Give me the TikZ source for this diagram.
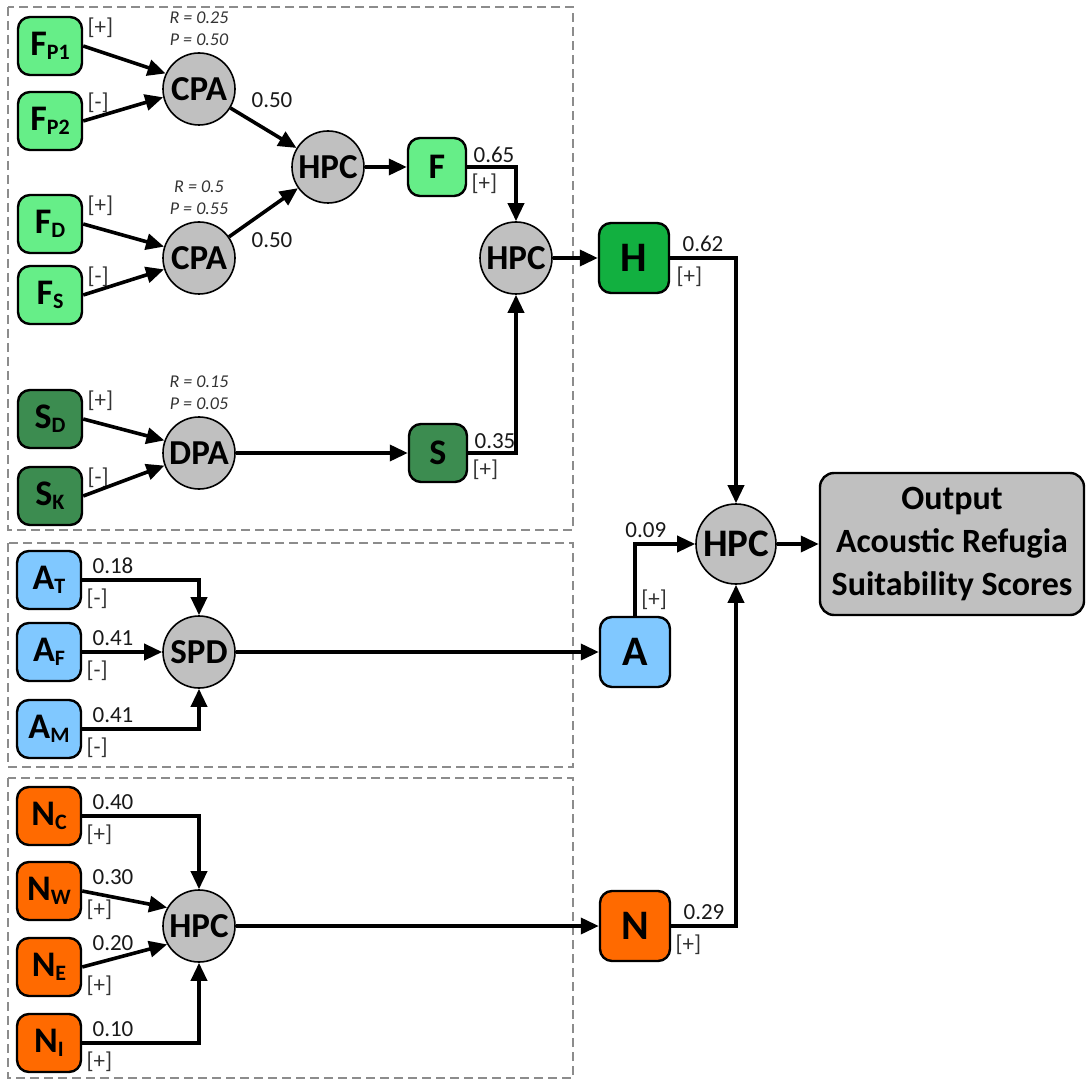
\documentclass[tikz,border=0pt]{standalone}
\usepackage{fontspec}
\setmainfont{Carlito}
\usetikzlibrary{arrows.meta, positioning, calc}
\definecolor{fgreen}{HTML}{66EE88}
\definecolor{hgreen}{HTML}{12B040}
\definecolor{sgreen}{HTML}{3C8C50}
\definecolor{ablue}{HTML}{80C8FF}
\definecolor{norange}{HTML}{FF6A00}
\definecolor{opgray}{HTML}{C0C0C0}
\newcommand{\lowsub}[1]{\raisebox{-2pt}{\fontsize{11}{11}\selectfont #1}}

\begin{document}
\begin{tikzpicture}[x=0.5pt,y=-0.5pt,
  inbox/.style={draw, line width=1.2pt, rounded corners=6pt, minimum width=32pt, minimum height=29pt, inner sep=0pt, font=\bfseries\fontsize{18}{18}\selectfont},
  midbox/.style={inbox, minimum width=29pt},
  bigbox/.style={inbox, minimum width=35pt, minimum height=35pt, font=\bfseries\fontsize{21}{21}\selectfont},
  op/.style={circle, draw, line width=0.8pt, fill=opgray, minimum size=36pt, inner sep=0pt, font=\bfseries\fontsize{17.5}{17.5}\selectfont},
  link/.style={line width=1.8pt, -{Triangle[length=9pt,width=8pt]}},
  wt/.style={font=\fontsize{11.5}{11.5}\selectfont, text=black!90, inner sep=0pt},
  sgn/.style={font=\fontsize{11.5}{11.5}\selectfont, text=black!80, inner sep=1pt},
  rp/.style={font=\itshape\fontsize{9}{9}\selectfont, text=black!80, inner sep=0pt},
  group/.style={draw=black!45, line width=1pt, dash pattern=on 4.5pt off 2.5pt}
]
\useasboundingbox (0,0) rectangle (1086,1080);

% Groups
\draw[group] (8,7) rectangle (573,530);
\draw[group] (8,543) rectangle (573,767);
\draw[group] (8,778) rectangle (573,1078);

% Habitat inputs
\foreach \n/\l/\t/\y/\c in {FP1/F/P1/46/fgreen, FP2/F/P2/121/fgreen, FD/F/D/224/fgreen, FS/F/S/295/fgreen, SD/S/D/419/sgreen, SK/S/K/496/sgreen}
  \node[inbox, fill=\c] (\n) at (50,\y) {\l\lowsub{\t}};
\foreach \n/\s in {FP1/+, FP2/-, FD/+, FS/-, SD/+, SK/-}
  \node[sgn, anchor=north west] (s\n) at ([xshift=1pt]\n.north east) {[\s]};

\node[op] (CPA1) at (199,89) {CPA};
\node[op] (CPA2) at (199,258) {CPA};
\node[op] (DPA) at (199,453) {DPA};
\node[op] (HPC1) at (328,167) {HPC};
\node[op] (HPC2) at (516,258) {HPC};
\node[midbox, fill=fgreen] (F) at (437,167) {F};
\node[midbox, fill=sgreen] (S) at (438,453) {S};

\node[rp, above=3pt of CPA1] (pCPA1) {P = 0.50};
\node[rp, above=5pt of pCPA1] (rCPA1) {R = 0.25};
\node[rp, above=3pt of CPA2] (pCPA2) {P = 0.55};
\node[rp, above=5pt of pCPA2] (rCPA2) {R = 0.5};
\node[rp, above=3pt of DPA] (pDPA) {P = 0.05};
\node[rp, above=5pt of pDPA] (rDPA) {R = 0.15};

\foreach \a/\b in {FP1/CPA1.155, FP2/CPA1.193, FD/CPA2.162, FS/CPA2.198, SD/DPA.160, SK/DPA.200}
  \draw[link] (\a.east) -- (\b);
\draw[link] (CPA1) -- (HPC1);
\draw[link] (CPA2) -- (HPC1);
\node[wt] (wCPA1) at (272,100) {0.50};
\node[wt] (wCPA2) at (272,240) {0.50};
\draw[link] (HPC1) -- (F);
\draw[link] (DPA) -- (S);
\draw[link] (F.east) -| (HPC2.north);
\draw[link] (S.east) -| (HPC2.south);
\node[wt, anchor=south west] (wF) at ([shift={(3pt,2pt)}]F.east) {0.65};
\node[sgn, anchor=north west] (sF) at ([shift={(1pt,-2pt)}]F.east) {[+]};
\node[wt, anchor=south west] (wS) at ([shift={(3pt,2pt)}]S.east) {0.35};
\node[sgn, anchor=north west] (sS) at ([shift={(1pt,-2pt)}]S.east) {[+]};

% Acoustic and noise inputs
\foreach \n/\l/\t/\y/\c in {AT/A/T/580/ablue, AF/A/F/652/ablue, AM/A/M/729/ablue, NC/N/C/816/norange, NW/N/W/891/norange, NE/N/E/967/norange, NI/N/I/1043/norange}
  \node[inbox, fill=\c] (\n) at (49,\y) {\l\lowsub{\t}};
\node[op] (SPD) at (199,652) {SPD};
\node[op] (HPCN) at (199,926) {HPC};
\foreach \n/\w/\s/\h in {AT/0.18/-/3, AF/0.41/-/3, AM/0.41/-/3, NC/0.40/+/3, NW/0.30/+/3, NE/0.20/+/8, NI/0.10/+/3} {
  \node[wt, anchor=south west] (w\n) at ([shift={(5pt,\h pt)}]\n.east) {\w};
  \node[sgn, anchor=north west] (s\n) at ([shift={(1pt,-3pt)}]\n.east) {[\s]};
}
\draw[link] (AT.east) -| (SPD.north);
\draw[link] (AF.east) -- (SPD);
\draw[link] (AM.east) -| (SPD.south);
\draw[link] (NC.east) -| (HPCN.north);
\draw[link] (NW.east) -- (HPCN.150);
\draw[link] (NE.east) -- (HPCN.210);
\draw[link] (NI.east) -| (HPCN.south);

% Sub-indices and output
\node[bigbox, fill=hgreen] (H) at (634,258) {H};
\node[bigbox, fill=ablue] (A) at (635,652) {A};
\node[bigbox, fill=norange] (N) at (635,926) {N};
\node[op, minimum size=40pt, font=\bfseries\fontsize{19.5}{19.5}\selectfont] (HPCF) at (736,544) {HPC};
\node[draw, line width=1.2pt, rounded corners=7pt, fill=opgray, minimum width=132pt, minimum height=71pt, align=center, font=\bfseries\fontsize{17}{21.5}\selectfont] (out) at (952,544) {Output\\Acoustic Refugia\\Suitability Scores};

\draw[link] (HPC2) -- (H);
\draw[link] (SPD) -- (A);
\draw[link] (HPCN) -- (N);
\draw[link] (H.east) -| (HPCF.north);
\draw[link] (N.east) -| (HPCF.south);
\coordinate (aCorner) at (A.north |- HPCF.west);
\draw[link] (A.north) -- (aCorner) -- (HPCF.west);
\draw[link] (HPCF) -- (out);
\node[wt, anchor=south west] (wH) at ([shift={(6pt,3pt)}]H.east) {0.62};
\node[sgn, anchor=north west] (sH) at ([shift={(2pt,-3pt)}]H.east) {[+]};
\node[wt, anchor=south west] (wN) at ([shift={(6pt,3pt)}]N.east) {0.29};
\node[sgn, anchor=north west] (sN) at ([shift={(1pt,-3pt)}]N.east) {[+]};
\node[wt, anchor=south west] (wA) at ([shift={(-5pt,3pt)}]aCorner) {0.09};
\node[sgn, anchor=south west] (sA) at ([shift={(2pt,2pt)}]A.north) {[+]};
\end{tikzpicture}
\end{document}
